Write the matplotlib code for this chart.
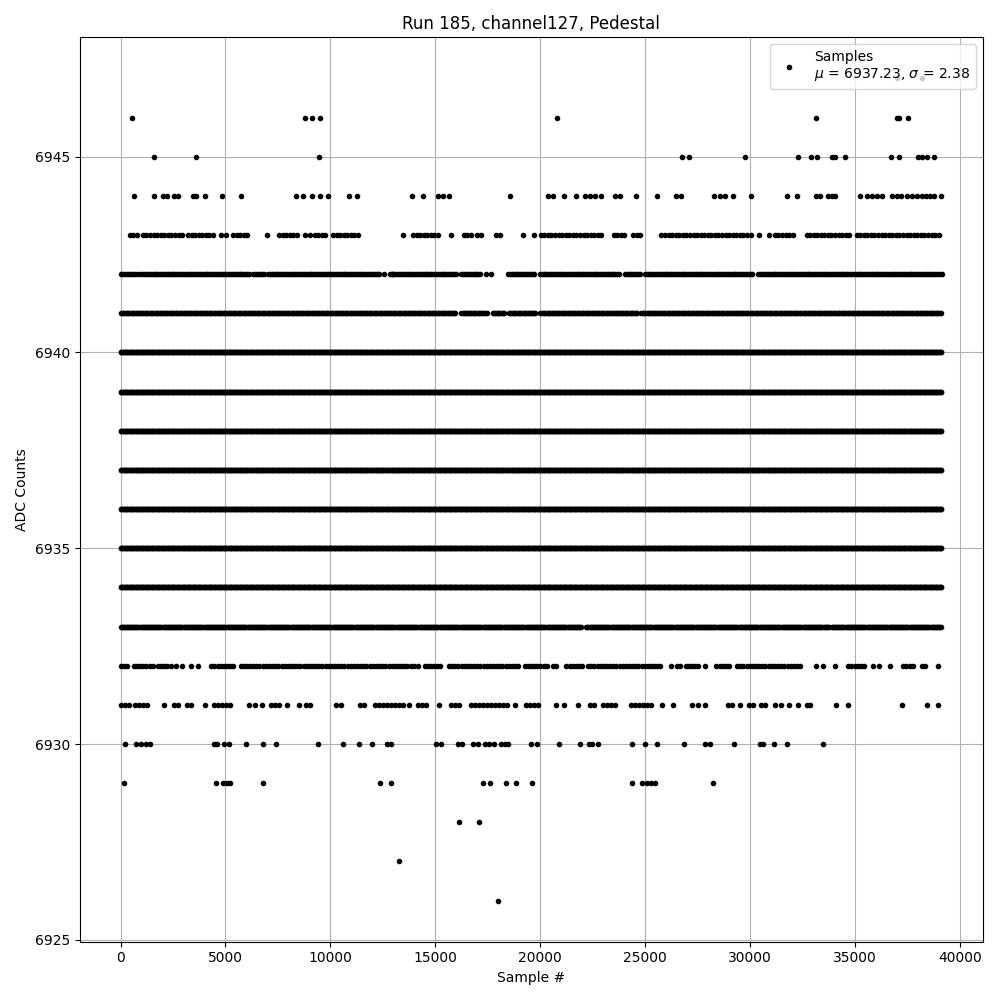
import numpy as np
import matplotlib
matplotlib.use("Agg")
import matplotlib.pyplot as plt

# total number of samples in the run
n_samples = 39150

# levels that are occupied over the whole run
levels_full = [6934, 6935, 6936, 6937, 6938, 6939, 6940]

# runs of samples (start, end) sitting at a given ADC level
runs_6933 = [(0, 21965), (22200, 33800), (33900, n_samples)]
runs_6941 = [(0, 16000), (16240, 17500), (17740, 18310), (18500, 19815),
             (20000, 24650), (24820, n_samples)]
runs_6942 = [(0, 750), (900, 6150), (6310, 6865), (7025, 12350), (12825, 16000),
             (16240, 17195), (18465, 19815), (19980, 23790), (24030, 24820),
             (24985, 30150), (30400, n_samples)]
runs_6943 = [(430, 910), (1065, 3050), (3210, 4560), (5355, 6150), (7550, 8455),
             (9250, 9885), (10125, 11475), (13935, 15210), (16355, 16800),
             (16990, 17275), (17915, 18150), (20025, 22995), (23505, 24030),
             (24425, 24935), (25775, 30150), (31180, 32180), (32690, 34760),
             (35080, n_samples)]
runs_6932 = [(0, 350), (635, 1590), (1780, 2415), (4320, 5510), (5720, 14020),
             (14495, 15365), (15650, 19020), (19260, 20375), (20610, 20850),
             (21245, 22010), (22280, 25855), (26940, 27575), (28400, 29115),
             (29385, 32535), (34680, 35475), (37300, 37810), (38205, 38440)]
runs_6931 = [(0, 460), (670, 1335), (2525, 2780), (3160, 3370), (4445, 5320),
             (7185, 7580), (8850, 9060), (11395, 11665), (12110, 13460),
             (14160, 14700), (15765, 16240), (16715, 18465), (19340, 19930),
             (22360, 22555), (23000, 23630), (24345, 25455), (28955, 29195),
             (29945, 30180), (30545, 30910), (32690, 32930), (34645, 34760),
             (37220, 37380)]

# isolated samples at a given ADC level
dots_6947 = [37000, 38205]
dots_6946 = [539, 8773, 9121, 9503, 20800, 33138, 36985, 37108, 37537]
dots_6945 = [1589, 3591, 9441, 26740, 27100, 29767, 32279, 32899, 33198, 33900,
             34044, 34520, 36697, 37108, 38001, 38177, 38415, 38779]
dots_6944 = [635, 1589, 2017, 2203, 2527, 2733, 3449, 3604, 4020, 4828, 5737,
             8373, 8694, 9121, 9503, 9870, 10887, 11279, 13890, 14415, 15130,
             15365, 15638, 18562, 20375, 20612, 21156, 21710, 22110, 22374,
             22613, 22886, 23554, 23792, 24570, 25586, 26494, 26732, 28290,
             28556, 28828, 29193, 30038, 31772, 32232, 33121, 33324, 33726,
             33884, 34044, 35251, 35555, 35793, 36031, 36270, 36776, 36985,
             37176, 37493, 37731, 37969, 38177, 38367, 38573, 38764, 39082]
dots_6943 = [4800, 5005, 6976, 8775, 9010, 13460, 15735, 19180, 19705, 30430, 30910]
dots_6942 = [12555, 12950, 17400, 17650]
dots_6932 = [2650, 2910, 3370, 3685, 14175, 26225, 26520, 26650, 27845, 33140,
             33455, 34060, 35870, 36140, 36665, 38970]
dots_6931 = [2065, 4020, 6105, 6390, 6755, 7930, 8485, 10280, 10520, 13745, 15175,
             18800, 20770, 21120, 21800, 25825, 26330, 27240, 27525, 27845, 29525,
             31210, 31495, 31865, 32295, 34090, 38430, 38970]
dots_6930 = [225, 715, 985, 1225, 1385, 4435, 4595, 4925, 5165, 5960, 6785, 7425,
             9410, 10600, 11365, 11985, 12700, 12875, 15050, 15285, 16085, 16290,
             16795, 17035, 17355, 17560, 17795, 18120, 18310, 18465, 19580, 19845,
             20895, 21900, 22330, 22485, 22755, 24395, 24980, 25570, 26860, 27875,
             28080, 29240, 30465, 30595, 31150, 31770, 33485]
dots_6929 = [145, 4530, 4880, 5085, 5230, 6785, 12350, 12890, 17275, 17625, 18355,
             18835, 19615, 24380, 24870, 25080, 25290, 25455, 28240]
dots_6928 = [16115, 17070]
dots_6927 = [13255]
dots_6926 = [17975]

mu = 6937.23
sigma = 2.38

# -------------------------------
# build sample arrays
# -------------------------------
xs, ys = [], []

def add_runs(level, runs, step):
    for a, b in runs:
        s = np.arange(a, b, step)
        xs.append(s)
        ys.append(np.full(len(s), level))

def add_dots(level, dots):
    xs.append(np.array(dots))
    ys.append(np.full(len(dots), level))

for lv in levels_full:
    add_runs(lv, [(0, n_samples)], 40)
add_runs(6933, runs_6933, 50)
add_runs(6941, runs_6941, 60)
add_runs(6942, runs_6942, 90)
add_runs(6943, runs_6943, 170)
add_runs(6932, runs_6932, 150)
add_runs(6931, runs_6931, 190)

add_dots(6947, dots_6947)
add_dots(6946, dots_6946)
add_dots(6945, dots_6945)
add_dots(6944, dots_6944)
add_dots(6943, dots_6943)
add_dots(6942, dots_6942)
add_dots(6932, dots_6932)
add_dots(6931, dots_6931)
add_dots(6930, dots_6930)
add_dots(6929, dots_6929)
add_dots(6928, dots_6928)
add_dots(6927, dots_6927)
add_dots(6926, dots_6926)

x = np.concatenate(xs)
y = np.concatenate(ys)

# -------------------------------
# PLOT
# -------------------------------
plt.figure(figsize=(10, 10), dpi=100)
plt.plot(x, y, "k.", label="Samples\n$\\mu$ = %.2f, $\\sigma$ = %.2f" % (mu, sigma))
plt.title("Run 185, channel127, Pedestal")
plt.xlabel("Sample #")
plt.ylabel("ADC Counts")
plt.legend(loc="upper right")
plt.grid(True)
plt.tight_layout()
plt.savefig("out.png")
